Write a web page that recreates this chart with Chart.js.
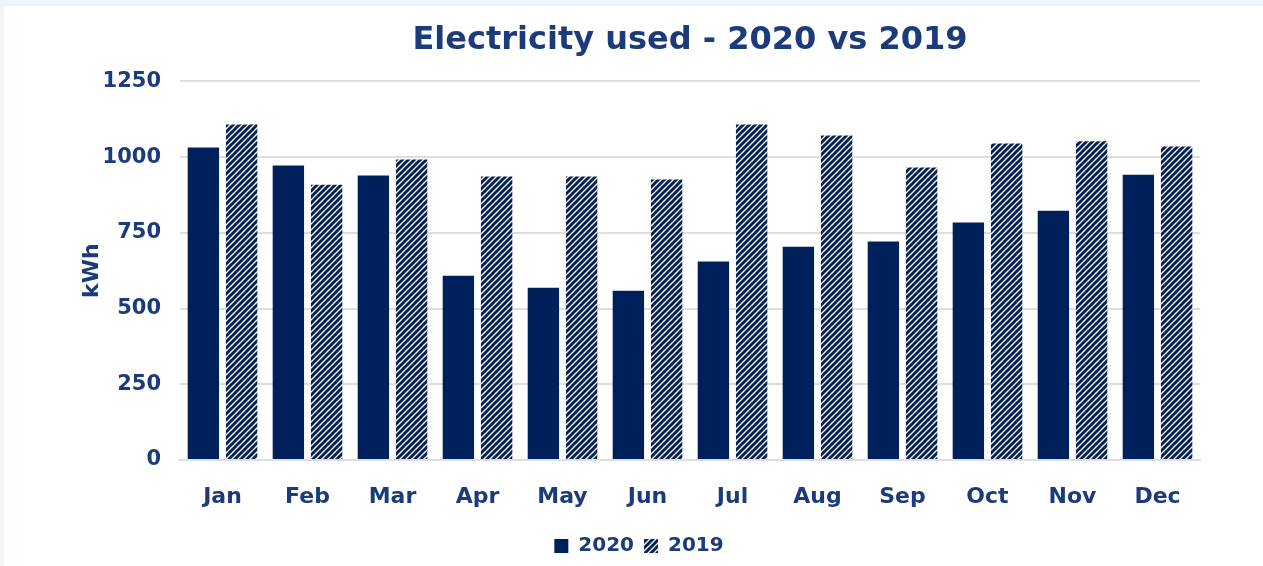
<!DOCTYPE html>
<html>
<head>
<meta charset="utf-8">
<script src="https://cdn.jsdelivr.net/npm/chart.js@4.4.1/dist/chart.umd.min.js"></script>
<style>
  html, body { margin: 0; padding: 0; background: #f0f3f8; }
  #wrap { position: absolute; left: 4px; top: 6px; width: 1259px; height: 560px; background: #fff; }
</style>
</head>
<body>
<div id="wrap"><canvas id="myChart" width="1259" height="560"></canvas></div>
<script>
// data
const months = ['Jan', 'Feb', 'Mar', 'Apr', 'May', 'Jun', 'Jul', 'Aug', 'Sep', 'Oct', 'Nov', 'Dec']
const used2020 = [1032, 972, 939, 608, 569, 559, 655, 704, 721, 784, 823, 942]
const used2019 = [1108, 909, 992, 936, 936, 926, 1108, 1071, 966, 1045, 1052, 1035]
const yTicks = [0, 250, 500, 750, 1000, 1250]

const navy = '#00205b'
const textCol = '#1b3b7b'
const fontFam = 'DejaVu Sans'

// diagonal stripes for the 2019 bars
function stripes() {
  const c = document.createElement('canvas')
  c.width = 6; c.height = 6
  const g = c.getContext('2d')
  g.fillStyle = '#fff'
  g.fillRect(0, 0, 6, 6)
  g.strokeStyle = navy
  g.lineWidth = 3
  g.beginPath()
  g.moveTo(-3, 9); g.lineTo(9, -3)
  g.moveTo(-6, 6); g.lineTo(6, -6)
  g.moveTo(0, 12); g.lineTo(12, 0)
  g.stroke()
  return g.createPattern(c, 'repeat')
}

const ctx = document.getElementById('myChart')
const myChart = new Chart(ctx, {
  type: 'bar',
  data: {
    labels: months,
    datasets: [{
      label: '2020',
      data: used2020,
      backgroundColor: navy,
      categoryPercentage: 0.9,
      barPercentage: 0.82
    }, {
      label: '2019',
      data: used2019,
      backgroundColor: stripes(),
      categoryPercentage: 0.9,
      barPercentage: 0.82
    }]
  },
  options: {
    responsive: false,
    animation: false,
    layout: { padding: { left: 74, right: 63, bottom: 0, top: 0 } },
    plugins: {
      title: {
        display: true,
        text: 'Electricity used - 2020 vs 2019',
        fullSize: false,
        color: textCol,
        font: { family: fontFam, size: 32, weight: 'bold' },
        padding: { top: 15, bottom: 22 }
      },
      legend: {
        position: 'bottom',
        labels: {
          color: textCol,
          boxWidth: 14,
          boxHeight: 14,
          padding: 10,
          font: { family: fontFam, size: 20, weight: 'bold' }
        }
      },
      tooltip: { enabled: false }
    },
    scales: {
      x: {
        afterFit: s => { s.height = 66 },
        grid: { display: false, drawTicks: false },
        border: { color: '#dedede', width: 2 },
        ticks: {
          color: textCol,
          padding: 24,
          font: { family: fontFam, size: 22, weight: 'bold' }
        }
      },
      y: {
        min: 0,
        max: 1250,
        afterFit: s => { s.width = 102 },
        afterBuildTicks: axis => { axis.ticks = yTicks.map(v => ({ value: v })) },
        grid: { color: '#dedede', lineWidth: 2, drawTicks: false },
        border: { display: false },
        ticks: {
          color: textCol,
          padding: 19,
          callback: v => String(v),
          font: { family: fontFam, size: 21, weight: 'bold' }
        },
        title: {
          display: true,
          text: 'kWh',
          color: textCol,
          padding: { top: 1, bottom: 0 },
          font: { family: fontFam, size: 22, weight: 'bold' }
        }
      }
    }
  }
})
</script>
</body>
</html>
